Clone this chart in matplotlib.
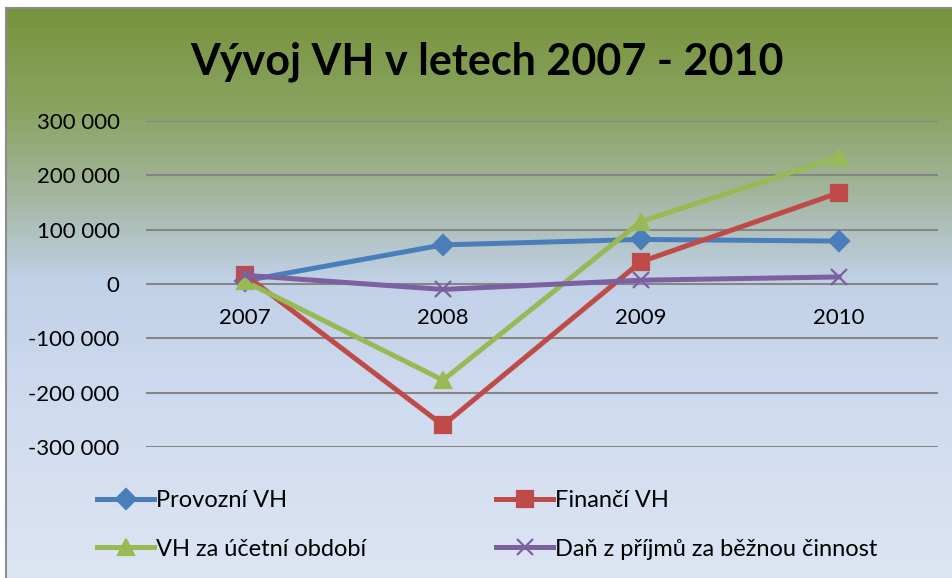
import numpy as np
import matplotlib
matplotlib.use('Agg')
import matplotlib.pyplot as plt
from matplotlib.colors import LinearSegmentedColormap

years = ['2007', '2008', '2009', '2010']
provozni = [6000, 72000, 82000, 79000]
financni = [17000, -260000, 41000, 168000]
vh_obdobi = [5000, -177000, 115000, 234000]
dan = [16000, -10000, 7000, 13000]

series_names = ['Provozní VH', 'Finančí VH', 'VH za účetní období',
                'Daň z příjmů za běžnou činnost']
yticks = [-300000, -200000, -100000, 0, 100000, 200000, 300000]

plt.rcParams['font.family'] = ['Lato', 'DejaVu Sans']

fig = plt.figure(figsize=(9.53, 5.78), dpi=100)
W, H = 953, 578

# gradient background of the chart area
bg = fig.add_axes([6 / W, 0, (W - 6) / W, (H - 8) / H])
grad = LinearSegmentedColormap.from_list('bg', [
    (0.0, '#77933c'), (0.18, '#8aa462'), (0.32, '#a2b59c'),
    (0.48, '#c1d1e8'), (0.7, '#cfdbef'), (1.0, '#dde5f3')])
bg.imshow(np.linspace(0, 1, 256).reshape(-1, 1), aspect='auto', cmap=grad,
          extent=[0, 1, 0, 1])
bg.set_xticks([])
bg.set_yticks([])
for side in ['right', 'bottom']:
    bg.spines[side].set_visible(False)
for side in ['left', 'top']:
    bg.spines[side].set_color('#8c8c8c')
    bg.spines[side].set_linewidth(1.5)

ax = fig.add_axes([146 / W, 1 - 447 / H, (938 - 146) / W, (447 - 121) / H])
ax.patch.set_alpha(0)
x = np.arange(len(years))

styles = [
    (provozni, '#4a7ebb', 'D', 10),
    (financni, '#be4b48', 's', 11),
    (vh_obdobi, '#98b954', '^', 12),
    (dan, '#7d60a0', 'x', 11),
]
handles = []
for (vals, col, mk, ms), name in zip(styles, series_names):
    h, = ax.plot(x, vals, color=col, lw=3.6, marker=mk, ms=ms, mew=1.6,
                 mec=col, mfc=col, label=name, solid_joinstyle='round')
    handles.append(h)

ax.set_xlim(-0.5, 3.5)
ax.set_ylim(-300000, 300000)
ax.set_yticks(yticks)
ax.set_yticklabels(['{:,}'.format(v).replace(',', ' ') for v in yticks],
                   fontsize=16)
ax.tick_params(axis='y', length=0, pad=19)
ax.set_xticks([])
ax.grid(axis='y', color='#868686', lw=1.5)
ax.set_axisbelow(True)
for s in ax.spines.values():
    s.set_visible(False)

for i, yr in enumerate(years):
    ax.text(i, -63000, yr, ha='center', va='center', fontsize=16)

fig.text(487 / W, 1 - 62 / H, 'Vývoj VH v letech 2007 - 2010', ha='center',
         va='center', fontsize=31, fontweight='bold')

# legend is filled row by row in the reference
order = [0, 2, 1, 3]
fig.legend([handles[i] for i in order], [series_names[i] for i in order],
           loc='upper left', bbox_to_anchor=(88 / W, 1 - 481 / H), ncol=2,
           frameon=False, fontsize=17, columnspacing=5.5, handlelength=2.4,
           handletextpad=0.1, labelspacing=1.15, borderaxespad=0)

fig.savefig('out.png', dpi=100)
